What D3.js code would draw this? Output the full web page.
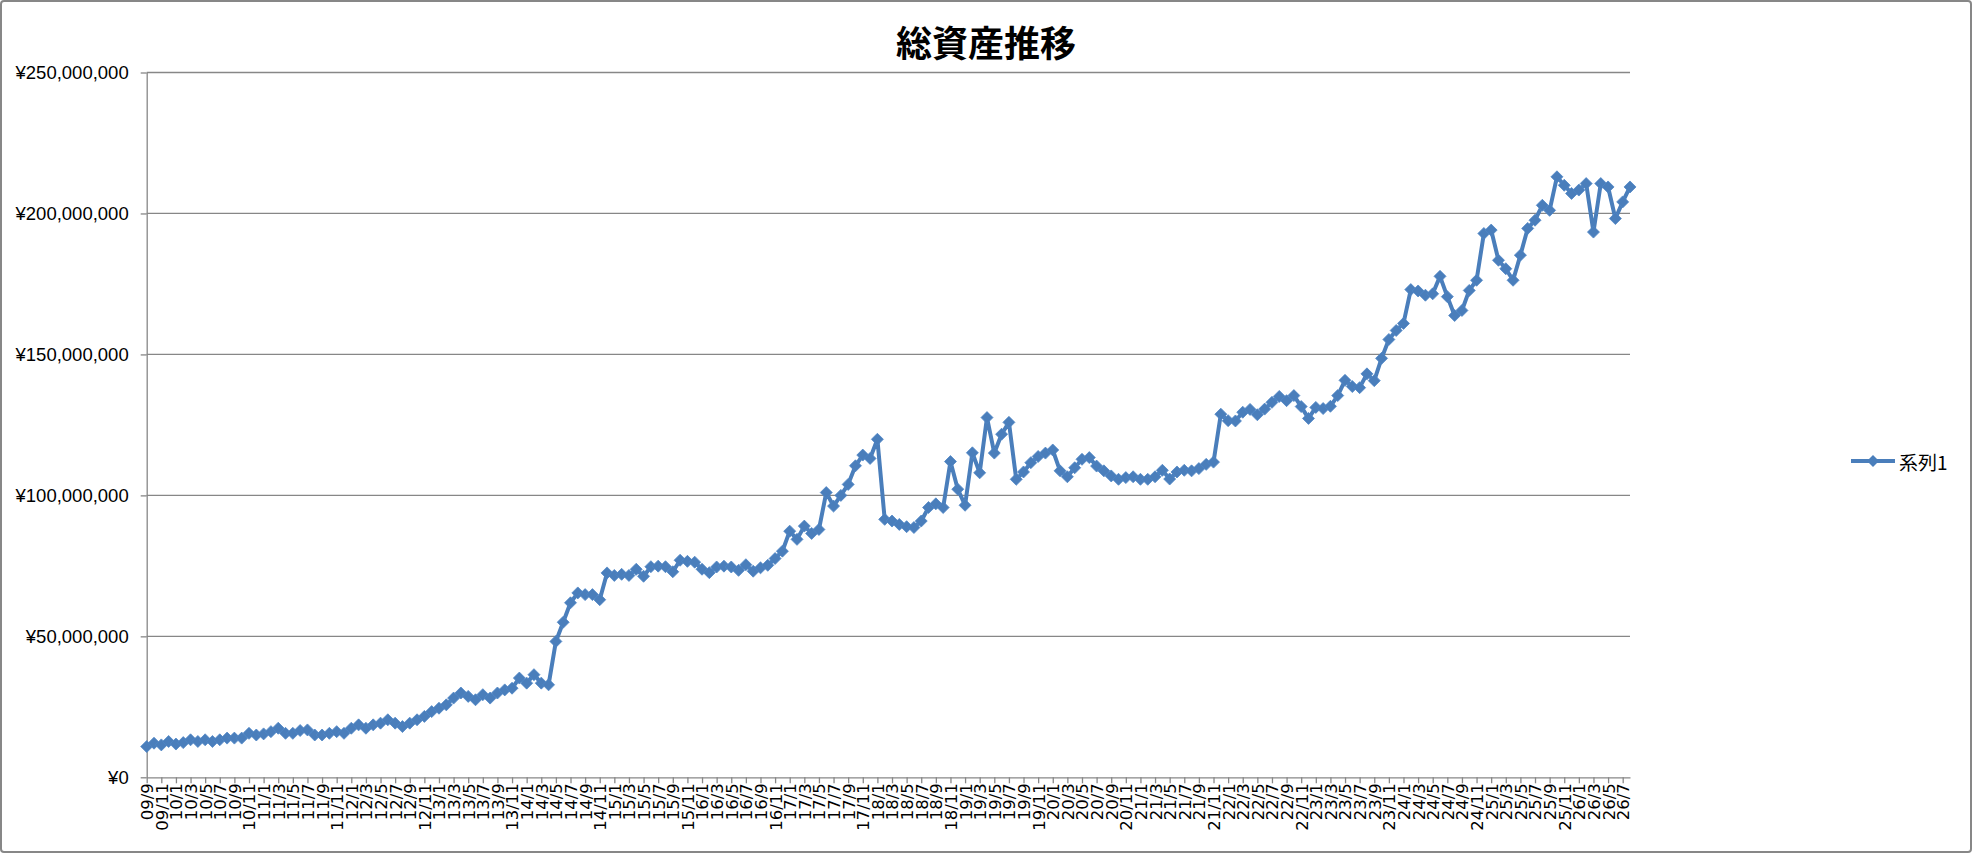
<!DOCTYPE html>
<html><head><meta charset="utf-8">
<script src="https://cdn.jsdelivr.net/npm/d3@7/dist/d3.min.js"></script>
<style>
html,body{margin:0;padding:0;background:#fff;}
svg{display:block;}
</style></head>
<body>
<svg id="chart" width="1972" height="853"></svg>
<script>
// ---- DATA ----
const categories = [
 "09/9","09/10","09/11","09/12",
 "10/1","10/2","10/3","10/4","10/5","10/6","10/7","10/8","10/9","10/10","10/11","10/12",
 "11/1","11/2","11/3","11/4","11/5","11/6","11/7","11/8","11/9","11/10","11/11","11/12",
 "12/1","12/2","12/3","12/4","12/5","12/6","12/7","12/8","12/9","12/10","12/11","12/12",
 "13/1","13/2","13/3","13/4","13/5","13/6","13/7","13/8","13/9","13/10","13/11","13/12",
 "14/1","14/2","14/3","14/4","14/5","14/6","14/7","14/8","14/9","14/10","14/11","14/12",
 "15/1","15/2","15/3","15/4","15/5","15/6","15/7","15/8","15/9","15/10","15/11","15/12",
 "16/1","16/2","16/3","16/4","16/5","16/6","16/7","16/8","16/9","16/10","16/11","16/12",
 "17/1","17/2","17/3","17/4","17/5","17/6","17/7","17/8","17/9","17/10","17/11","17/12",
 "18/1","18/2","18/3","18/4","18/5","18/6","18/7","18/8","18/9","18/10","18/11","18/12",
 "19/1","19/2","19/3","19/4","19/5","19/6","19/7","19/8","19/9","19/10","19/11","19/12",
 "20/1","20/2","20/3","20/4","20/5","20/6","20/7","20/8","20/9","20/10","20/11","20/12",
 "21/1","21/2","21/3","21/4","21/5","21/6","21/7","21/8","21/9","21/10","21/11","21/12",
 "22/1","22/2","22/3","22/4","22/5","22/6","22/7","22/8","22/9","22/10","22/11","22/12",
 "23/1","23/2","23/3","23/4","23/5","23/6","23/7","23/8","23/9","23/10","23/11","23/12",
 "24/1","24/2","24/3","24/4","24/5","24/6","24/7","24/8","24/9","24/10","24/11","24/12",
 "25/1","25/2","25/3","25/4","25/5","25/6","25/7","25/8","25/9","25/10","25/11","25/12",
 "26/1","26/2","26/3","26/4","26/5","26/6","26/7","26/8"
];
// 総資産 (百万円)
const totalAssetsMillion = [
 10.9,12.1,11.5,12.7,
 11.8,12.3,13.3,12.7,13.3,12.7,13.3,13.9,13.9,13.9,15.6,15.0,
 15.4,16.2,17.4,15.6,15.6,16.6,16.8,15.0,15.0,15.6,16.2,15.6,
 17.4,18.6,17.4,18.6,19.2,20.4,19.2,18.0,19.2,20.4,21.6,23.3,
 24.5,25.7,28.1,29.9,28.7,27.5,29.3,28.1,29.9,31.0,31.6,35.2,
 33.4,36.4,33.4,32.8,48.2,55.0,61.9,65.4,64.8,64.8,63.0,72.5,
 71.6,72.0,71.6,73.8,71.3,74.7,74.9,74.7,72.9,77.0,76.6,76.3,
 73.8,72.6,74.6,74.9,74.6,73.4,75.4,73.1,74.3,75.2,77.6,80.2,
 87.3,84.4,89.1,86.5,87.9,101.0,96.2,100.0,103.9,110.5,114.3,113.1,
 119.9,91.5,90.9,89.7,88.9,88.6,90.9,95.7,97.0,95.7,112.0,102.2,
 96.5,115.1,108.0,127.6,115.0,121.7,125.9,105.7,108.3,111.6,113.8,115.0,
 116.1,108.7,106.6,109.8,112.8,113.4,110.4,108.7,106.9,105.7,106.3,106.6,
 105.7,105.7,106.6,108.9,105.8,108.3,108.9,108.7,109.5,111.0,111.8,128.8,
 126.5,126.4,129.5,130.5,128.6,130.6,133.0,135.1,133.6,135.4,131.5,127.3,
 131.2,130.8,131.6,135.4,140.8,138.6,138.2,143.1,140.7,148.6,155.3,158.5,
 161.0,173.0,172.5,171.0,171.5,177.7,170.5,163.8,165.6,172.7,176.3,192.9,
 194.1,183.4,180.4,176.3,185.2,194.7,197.6,202.9,201.1,213.0,210.0,207.1,
 208.3,210.6,193.4,210.6,209.4,198.2,204.1,209.4
];
const yTickValues = [0, 50000000, 100000000, 150000000, 200000000, 250000000];
const xTickLabels = categories.filter((d, i) => i % 2 === 0);
const seriesName = "系列1";
const chartTitle = "総資産推移";

const data = categories.map((c, i) => ({ cat: c, value: totalAssetsMillion[i] * 1e6 }));

// ---- LAYOUT ----
const W = 1972, H = 853;
const plot = { left: 146.7, right: 1630, top: 72.5, bottom: 777.3 };
const gray = "#878787";
const blue = "#4a7ebb";

const svg = d3.select("#chart");

svg.append("rect").attr("x", 1).attr("y", 1).attr("width", W - 2).attr("height", H - 2)
  .attr("rx", 3).attr("fill", "#fff").attr("stroke", gray).attr("stroke-width", 2);

const x = d3.scalePoint().domain(categories).range([plot.left, plot.right]).padding(0);
const y = d3.scaleLinear().domain([0, 250000000]).range([plot.bottom, plot.top]);

// gridlines
svg.append("g").selectAll("line").data(yTickValues.filter(v => v > 0)).join("line")
  .attr("x1", plot.left).attr("x2", plot.right)
  .attr("y1", d => y(d)).attr("y2", d => y(d))
  .attr("stroke", gray).attr("stroke-width", 1.3);

// y axis
const yAxis = svg.append("g").attr("transform", `translate(${plot.left},0)`)
  .call(d3.axisLeft(y).tickValues(yTickValues).tickSize(6).tickSizeOuter(0).tickPadding(12)
    .tickFormat(d => "¥" + d3.format(",")(d)));
yAxis.select(".domain").attr("stroke", gray).attr("stroke-width", 1.3);
yAxis.selectAll(".tick line").attr("stroke", gray).attr("stroke-width", 1.3);
yAxis.selectAll("text").attr("fill", "#000")
  .style("font-family", "'Liberation Sans', Arial, sans-serif").style("font-size", "18.5px");

// x axis
const xAxis = svg.append("g").attr("transform", `translate(0,${plot.bottom})`)
  .call(d3.axisBottom(x).tickValues(xTickLabels).tickSize(6).tickSizeOuter(0));
xAxis.select(".domain").attr("stroke", gray).attr("stroke-width", 1.3);
xAxis.selectAll(".tick line").attr("stroke", gray).attr("stroke-width", 1.3);
xAxis.selectAll("text")
  .attr("fill", "#000")
  .attr("transform", "rotate(-90)")
  .attr("x", -6).attr("y", 0).attr("dy", "0.36em")
  .style("text-anchor", "end")
  .style("font-family", "'DejaVu Sans', sans-serif").style("font-size", "16.5px");

// line + markers
const line = d3.line().x(d => x(d.cat)).y(d => y(d.value));
svg.append("path").datum(data).attr("d", line)
  .attr("fill", "none").attr("stroke", blue).attr("stroke-width", 4).attr("stroke-linejoin", "round");

const diamond = r => `M0,${-r}L${r},0L0,${r}L${-r},0Z`;
svg.append("g").selectAll("path").data(data).join("path")
  .attr("transform", d => `translate(${x(d.cat)},${y(d.value)})`)
  .attr("d", diamond(6)).attr("fill", blue).attr("stroke", "#4f86c6").attr("stroke-width", 0.8);

// title
svg.append("text").attr("x", W / 2).attr("y", 41).attr("text-anchor", "middle")
  .attr("dominant-baseline", "central")
  .style("font-family", "'Noto Sans CJK JP', sans-serif").style("font-weight", "bold").style("font-size", "36px")
  .text(chartTitle);

// legend
const lg = svg.append("g").attr("transform", "translate(1851,461)");
lg.append("line").attr("x1", 0).attr("x2", 44).attr("y1", 0).attr("y2", 0)
  .attr("stroke", blue).attr("stroke-width", 4);
lg.append("path").attr("transform", "translate(22,0)").attr("d", diamond(6)).attr("fill", blue);
lg.append("text").attr("x", 48).attr("y", 0).attr("dominant-baseline", "central")
  .style("font-family", "'Noto Sans CJK JP', sans-serif").style("font-size", "19px")
  .text(seriesName);
</script>
</body></html>
